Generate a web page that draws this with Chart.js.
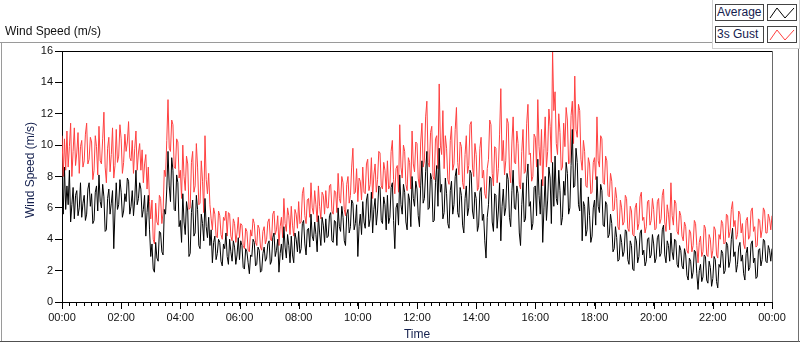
<!DOCTYPE html>
<html>
<head>
<meta charset="utf-8">
<script src="https://cdn.jsdelivr.net/npm/chart.js@4.4.1/dist/chart.umd.min.js"></script>
<style>
    html, body { margin: 0; padding: 0; background: #fff; }
    #wrap { position: relative; width: 800px; height: 342px; overflow: hidden; font-family: "Liberation Sans", Arial, sans-serif; }
    #chart { position: absolute; left: 0; top: 0; }
    .title { position: absolute; left: 5px; top: 24px; font-size: 12px; color: #111; }
    .line { position: absolute; background: #9a9a9a; }
    .legendPanel { position: absolute; left: 712px; top: -1px; width: 86px; height: 49px; border: 1px solid #d0d0d0; border-top: none; }
    .lbox { position: absolute; left: 715px; width: 46px; height: 15px; border: 1px solid #444; background: #fff; font-size: 12px; line-height: 15px; padding-left: 1px; color: #14204e; }
    .ibox { position: absolute; left: 767px; width: 28px; height: 15px; border: 1px solid #444; background: #fff; }
</style>
</head>
<body>
<div id="wrap">
    <canvas id="chart" width="800" height="342"></canvas>
    <div class="title">Wind Speed (m/s)</div>
    <div class="line" style="left:0;top:42px;width:712px;height:1px;"></div>
    <div class="line" style="left:1px;top:42px;width:1px;height:300px;"></div>
    <div class="line" style="left:0;top:341px;width:800px;height:1px;background:#505050;"></div>
    <div class="line" style="left:798px;top:48px;width:1px;height:294px;background:#707070;"></div>
    <div class="legendPanel"></div>
    <div class="lbox" style="top:4px;">Average</div>
    <div class="ibox" style="top:4px;"><svg width="28" height="15"><polyline id="icon0" points="2,13 9,3 17,13 26,3" fill="none" stroke-width="1"/></svg></div>
    <div class="lbox" style="top:26px;">3s Gust</div>
    <div class="ibox" style="top:26px;"><svg width="28" height="15"><polyline id="icon1" points="2,13 9,3 17,13 26,3" fill="none" stroke-width="1"/></svg></div>
</div>
<script>
// samples spread evenly over 00:00 .. 24:00 (one row = one hour)
const dayMinutes = 1440;

const average = [
    7.8, 5.6, 8.6, 5.9, 7.4, 6.2, 8.4, 5.1, 6.2, 7.3, 5.3, 6.8, 7.1, 5.5, 6.0, 7.6, 5.4, 6.3, 6.8, 5.2, 5.6, 7.2, 7.6, 6.1,
    6.9, 5.0, 5.2, 7.0, 7.4, 5.8, 8.1, 6.4, 6.0, 7.5, 6.7, 4.5, 4.6, 6.6, 7.2, 5.6, 6.3, 7.1, 3.4, 5.8, 7.6, 5.9, 6.2, 7.8,
    7.0, 5.4, 5.8, 6.9, 6.4, 7.9, 7.7, 5.6, 6.1, 7.1, 5.5, 6.5, 8.4, 6.2, 6.6, 7.6, 7.2, 5.4, 5.9, 6.8, 4.2, 5.7, 6.8, 4.6,
    2.9, 3.7, 2.1, 1.9, 3.8, 2.8, 2.6, 4.5, 4.4, 3.2, 3.0, 5.9, 5.6, 7.2, 9.6, 7.4, 6.4, 9.2, 8.4, 5.9, 5.8, 8.1, 7.6, 4.8,
    5.2, 3.8, 6.9, 5.1, 4.3, 6.4, 5.8, 2.9, 3.1, 5.7, 6.5, 4.2, 4.4, 6.8, 5.9, 3.6, 3.4, 5.6, 5.0, 3.9, 6.6, 4.8, 4.1, 5.4,
    3.6, 4.6, 2.5, 3.8, 4.2, 2.7, 3.1, 4.0, 3.8, 2.6, 2.3, 3.7, 3.4, 4.4, 2.9, 2.4, 4.0, 3.2, 2.6, 3.9, 3.5, 2.4, 3.0, 4.1,
    2.7, 3.9, 3.6, 2.2, 2.1, 3.4, 3.2, 2.5, 1.8, 3.0, 2.9, 4.0, 3.8, 2.3, 2.4, 3.5, 3.3, 1.9, 2.0, 3.1, 3.5, 2.6, 2.8, 3.7,
    3.9, 2.4, 2.6, 4.1, 4.4, 2.9, 3.3, 4.0, 1.9, 3.1, 3.7, 2.7, 4.8, 3.5, 2.8, 4.3, 3.6, 2.5, 4.2, 3.0, 2.5, 4.4, 4.0, 3.2,
    4.5, 3.1, 3.4, 5.0, 5.2, 3.7, 3.0, 4.6, 4.7, 3.5, 5.6, 4.2, 3.9, 5.1, 4.3, 3.2, 5.5, 4.4, 3.6, 5.4, 4.9, 3.8, 5.3, 4.1,
    4.2, 5.5, 5.7, 3.9, 3.8, 5.2, 5.1, 3.6, 6.0, 4.8, 4.5, 6.1, 5.4, 3.9, 3.6, 5.6, 5.9, 4.4, 4.8, 6.5, 6.3, 4.6, 5.0, 6.2,
    2.9, 4.8, 5.6, 4.3, 6.4, 5.1, 4.7, 6.5, 6.9, 4.8, 5.3, 7.0, 4.4, 5.9, 6.6, 4.9, 5.8, 7.4, 7.3, 5.2, 5.0, 6.7, 6.2, 4.6,
    6.8, 5.0, 5.4, 7.3, 7.6, 5.2, 3.4, 6.0, 6.3, 4.9, 8.1, 6.2, 5.6, 7.5, 7.0, 5.1, 4.6, 6.9, 6.5, 4.8, 8.0, 6.6, 6.1, 7.7,
    7.2, 5.5, 4.8, 7.4, 9.0, 6.3, 6.6, 8.3, 9.6, 5.9, 6.0, 8.2, 7.8, 5.1, 5.2, 7.6, 8.7, 6.1, 9.8, 7.0, 7.5, 5.3, 5.7, 7.9,
    6.9, 5.0, 4.7, 7.1, 7.7, 5.6, 6.2, 8.0, 8.5, 5.7, 5.4, 7.3, 6.8, 4.9, 4.4, 6.6, 7.4, 5.5, 6.0, 8.4, 8.2, 5.8, 5.3, 7.0,
    6.6, 4.5, 4.9, 7.0, 7.3, 5.2, 5.6, 3.9, 2.8, 5.4, 6.2, 8.0, 7.9, 5.1, 4.5, 6.9, 6.8, 4.7, 5.8, 7.6, 3.9, 6.1, 7.2, 5.5,
    6.0, 8.2, 7.8, 5.4, 4.8, 7.1, 8.4, 6.0, 5.9, 7.4, 6.9, 4.4, 3.6, 6.2, 7.6, 5.1, 5.3, 7.9, 8.8, 6.1, 6.4, 4.6, 5.0, 7.3,
    7.4, 5.5, 9.1, 6.8, 5.6, 7.8, 3.8, 6.0, 8.0, 5.2, 6.5, 8.6, 7.9, 5.0, 8.9, 6.1, 9.3, 6.6, 6.2, 8.4, 7.1, 4.9, 5.4, 7.7,
    6.8, 8.9, 8.2, 5.6, 6.0, 8.7, 11.0, 7.3, 7.4, 9.8, 8.9, 6.2, 5.8, 7.9, 3.9, 6.4, 6.1, 4.2, 4.6, 6.7, 5.5, 3.8, 4.2, 6.0,
    6.5, 4.9, 8.0, 6.1, 5.7, 7.5, 7.1, 4.9, 4.8, 6.4, 6.2, 4.1, 4.3, 5.6, 5.0, 3.2, 3.4, 4.8, 4.1, 2.6, 2.7, 4.3, 3.8, 2.9,
    3.2, 4.6, 4.5, 2.7, 2.4, 3.9, 3.6, 2.1, 2.0, 4.2, 3.9, 2.5, 2.9, 4.4, 4.6, 3.0, 3.3, 2.3, 2.6, 4.0, 4.1, 2.8, 3.0, 4.3,
    3.7, 2.5, 2.8, 4.1, 4.3, 2.9, 3.1, 4.6, 4.9, 3.0, 2.5, 3.9, 3.6, 2.6, 4.4, 3.2, 2.7, 4.0, 3.9, 2.4, 2.2, 3.6, 3.3, 2.3,
    2.1, 3.4, 3.0, 1.7, 1.4, 2.8, 2.6, 1.5, 1.9, 3.3, 3.2, 1.8, 0.8, 2.0, 2.4, 1.3, 1.6, 3.0, 2.9, 1.4, 1.2, 2.6, 2.2, 1.0,
    1.5, 2.9, 2.7, 1.3, 0.9, 2.4, 2.2, 3.3, 3.1, 1.8, 2.0, 3.8, 3.6, 2.2, 2.6, 4.0, 4.7, 2.9, 3.2, 1.9, 2.4, 3.5, 3.8, 2.6,
    3.0, 1.8, 1.4, 3.1, 3.5, 2.0, 2.2, 3.7, 3.9, 2.5, 2.8, 1.5, 1.6, 3.3, 3.4, 2.3, 2.7, 4.0, 3.9, 2.6, 2.5, 3.6, 3.3, 2.6,
    3.4
];

const gust = [
    10.6, 8.0, 10.4, 8.4, 10.9, 8.6, 9.9, 11.4, 8.0, 9.6, 11.1, 8.7, 9.5, 10.8, 8.2, 9.9, 10.3, 8.6, 9.0, 10.7, 11.4, 8.8, 9.1, 10.5,
    10.2, 7.8, 8.4, 10.6, 9.9, 8.1, 11.2, 9.0, 8.8, 10.4, 12.1, 8.6, 7.6, 9.8, 10.5, 8.3, 9.4, 11.1, 7.9, 8.7, 11.0, 8.9, 9.3, 11.3,
    10.4, 8.2, 8.9, 10.7, 9.6, 10.2, 11.5, 9.2, 9.0, 10.3, 8.2, 9.8, 10.9, 8.4, 9.5, 10.1, 8.4, 9.7, 7.6, 8.8, 9.4, 7.2, 8.6, 6.4,
    5.3, 6.5, 4.0, 3.7, 6.3, 5.1, 4.9, 6.8, 6.6, 5.0, 5.7, 8.4, 8.0, 10.3, 12.9, 9.8, 9.6, 11.6, 11.3, 8.6, 8.5, 10.4, 10.2, 7.9,
    8.4, 6.6, 10.0, 8.0, 7.1, 9.3, 8.8, 5.9, 6.0, 8.9, 9.6, 7.0, 7.4, 10.1, 8.6, 6.2, 6.3, 9.0, 7.7, 5.7, 10.6, 7.8, 6.9, 8.2,
    6.2, 5.3, 4.6, 6.0, 5.6, 4.2, 4.1, 5.8, 5.5, 4.3, 4.0, 5.4, 5.2, 5.8, 4.2, 5.7, 5.6, 4.2, 3.9, 5.3, 5.0, 3.8, 4.4, 5.4,
    4.1, 5.0, 4.9, 3.6, 3.4, 4.7, 4.5, 3.3, 3.2, 4.6, 4.2, 5.3, 5.0, 3.8, 3.6, 4.9, 4.7, 3.5, 3.3, 4.5, 4.8, 3.7, 4.0, 5.1,
    5.3, 4.0, 3.9, 5.6, 5.8, 4.3, 4.6, 5.5, 3.6, 4.8, 5.4, 4.1, 6.6, 5.0, 4.5, 6.0, 5.5, 4.3, 6.1, 4.9, 4.2, 5.9, 5.6, 4.7,
    6.4, 5.0, 5.1, 6.9, 7.3, 5.5, 5.0, 6.5, 6.6, 5.4, 7.6, 6.0, 5.6, 7.1, 6.2, 5.1, 7.4, 6.1, 5.3, 7.0, 6.8, 5.6, 7.1, 6.0,
    6.0, 7.4, 7.5, 5.8, 5.6, 7.1, 7.0, 5.7, 8.2, 6.6, 6.3, 8.0, 7.6, 5.9, 5.5, 7.5, 8.0, 6.3, 6.8, 8.6, 9.8, 6.9, 7.0, 8.5,
    6.4, 7.9, 7.7, 6.5, 8.6, 7.0, 6.9, 8.8, 9.1, 7.1, 7.5, 9.2, 6.6, 8.1, 8.8, 7.0, 7.8, 9.6, 9.5, 7.4, 7.2, 8.9, 8.4, 7.0,
    9.0, 7.2, 7.4, 9.6, 10.3, 7.8, 6.9, 8.5, 8.7, 7.0, 11.3, 8.6, 7.9, 10.0, 9.6, 7.5, 7.1, 9.2, 8.9, 7.2, 10.9, 8.8, 8.3, 10.2,
    10.1, 7.9, 7.3, 10.2, 11.4, 8.6, 9.0, 11.8, 12.8, 8.9, 8.6, 10.8, 11.2, 8.0, 7.8, 10.4, 10.6, 8.5, 13.9, 10.0, 9.4, 12.2, 8.5, 10.6,
    9.8, 7.8, 7.5, 10.3, 11.2, 8.4, 8.8, 11.0, 12.4, 8.9, 8.1, 10.2, 9.9, 7.6, 7.2, 9.4, 10.6, 8.2, 8.7, 11.3, 11.5, 8.6, 8.0, 10.1,
    9.4, 7.1, 7.3, 9.8, 10.5, 7.9, 8.4, 6.9, 6.6, 8.5, 9.1, 11.6, 11.3, 8.2, 7.4, 9.9, 9.8, 7.6, 8.5, 10.7, 13.6, 9.0, 10.3, 8.1,
    9.0, 11.7, 11.4, 8.4, 7.6, 10.2, 11.8, 8.9, 8.8, 10.9, 10.1, 7.5, 7.2, 9.6, 11.0, 8.2, 8.3, 11.4, 12.6, 9.4, 9.5, 7.7, 8.0, 10.7,
    10.5, 8.6, 12.9, 9.9, 8.7, 11.0, 7.4, 9.8, 11.8, 8.6, 9.6, 12.3, 11.2, 8.9, 16.0, 12.2, 13.4, 10.1, 9.4, 12.0, 10.8, 8.4, 8.6, 11.4,
    9.9, 12.4, 11.6, 8.8, 8.9, 11.9, 12.8, 10.1, 14.4, 11.0, 10.5, 12.6, 12.2, 9.1, 8.4, 10.3, 9.6, 7.4, 7.3, 9.2, 8.8, 6.9, 7.0, 8.9,
    9.2, 7.8, 11.8, 9.0, 8.6, 10.6, 10.4, 7.6, 7.5, 9.3, 9.0, 6.8, 6.7, 8.2, 7.7, 5.8, 5.9, 7.3, 6.6, 4.8, 4.6, 6.5, 6.0, 4.9,
    5.1, 6.8, 6.6, 4.7, 4.5, 6.1, 5.8, 4.3, 4.2, 6.0, 6.3, 4.6, 5.0, 6.7, 7.0, 5.2, 5.4, 4.4, 4.8, 6.4, 6.5, 4.9, 5.2, 6.6,
    5.9, 4.6, 4.7, 6.4, 6.6, 5.0, 5.3, 6.8, 7.2, 5.1, 4.5, 6.2, 5.6, 4.6, 7.6, 5.5, 4.9, 6.5, 6.3, 4.5, 4.3, 5.8, 5.5, 4.2,
    3.9, 5.1, 4.8, 3.3, 3.1, 4.6, 4.4, 3.2, 3.6, 5.2, 5.0, 3.6, 2.5, 3.8, 4.2, 2.9, 3.2, 4.9, 4.7, 3.0, 2.9, 4.3, 4.0, 2.8,
    3.3, 4.8, 4.6, 3.0, 2.8, 4.3, 4.0, 5.2, 5.0, 3.7, 3.8, 5.6, 5.5, 4.1, 4.5, 5.9, 6.4, 4.8, 5.2, 4.0, 4.3, 5.8, 5.6, 4.4,
    5.0, 3.7, 3.4, 5.2, 5.4, 4.0, 4.2, 5.8, 6.0, 4.5, 4.8, 3.5, 3.6, 5.3, 5.2, 4.1, 4.6, 6.0, 5.8, 4.4, 4.4, 5.6, 5.3, 4.6,
    5.5
];

// minutes of the labelled ticks (every 2 h) and y tick labels
const timeTicks = [0, 120, 240, 360, 480, 600, 720, 840, 960, 1080, 1200, 1320, 1440];
const speedTicks = [0, 2, 4, 6, 8, 10, 12, 14, 16];

const seriesColors = { average: '#000000', gust: '#ff4040' };

document.getElementById('icon0').setAttribute('stroke', seriesColors.average);
document.getElementById('icon1').setAttribute('stroke', seriesColors.gust);

function toPoints(values) {
    const step = dayMinutes / (values.length - 1);
    return values.map((v, i) => ({ x: i * step, y: v }));
}

function formatTime(mins) {
    const h = Math.floor(mins / 60) % 24;
    const m = mins % 60;
    return String(h).padStart(2, '0') + ':' + String(m).padStart(2, '0');
}

// top/right frame, long ticks every 2 h, axis names
const framePlugin = {
    id: 'frame',
    afterDraw(chart) {
        const { ctx, chartArea: a } = chart;
        const xs = chart.scales.x;
        ctx.save();
        ctx.lineWidth = 1;
        ctx.strokeStyle = '#000';
        ctx.beginPath();
        ctx.moveTo(a.left, a.top + 0.5);
        ctx.lineTo(a.right, a.top + 0.5);
        timeTicks.forEach(t => {
            const px = Math.round(xs.getPixelForValue(t)) + 0.5;
            ctx.moveTo(px, a.bottom);
            ctx.lineTo(px, a.bottom + 7);
        });
        ctx.stroke();
        ctx.strokeStyle = '#6a6a6a';
        ctx.beginPath();
        ctx.moveTo(a.right + 0.5, a.top);
        ctx.lineTo(a.right + 0.5, a.bottom);
        ctx.stroke();

        ctx.fillStyle = '#14204e';
        ctx.font = '12px "Liberation Sans", Arial, sans-serif';
        ctx.textAlign = 'center';
        ctx.textBaseline = 'middle';
        ctx.fillText('Time', (a.left + a.right) / 2, 335);
        ctx.translate(31, 170);
        ctx.rotate(-Math.PI / 2);
        ctx.fillText('Wind Speed (m/s)', 0, 0);
        ctx.restore();
    }
};

function createChart() {
    const ctx = document.getElementById('chart').getContext('2d');
    new Chart(ctx, {
        type: 'line',
        data: {
            datasets: [{
                label: 'Average',
                data: toPoints(average),
                borderColor: seriesColors.average,
                borderWidth: 1,
                pointRadius: 0,
                tension: 0
            }, {
                label: '3s Gust',
                data: toPoints(gust),
                borderColor: seriesColors.gust,
                borderWidth: 1,
                pointRadius: 0,
                tension: 0
            }]
        },
        options: {
            responsive: false,
            animation: false,
            devicePixelRatio: 1,
            layout: { padding: { top: 51, right: 28, left: 0, bottom: 0 } },
            plugins: {
                legend: { display: false },
                tooltip: { enabled: false }
            },
            scales: {
                x: {
                    type: 'linear',
                    min: 0,
                    max: dayMinutes,
                    afterFit: s => { s.height = 40; },
                    border: { color: '#000', width: 1 },
                    grid: { drawOnChartArea: false, tickLength: 4, color: '#000' },
                    ticks: {
                        stepSize: 15,
                        autoSkip: false,
                        maxRotation: 0,
                        padding: 5,
                        color: '#111',
                        font: { family: '"Liberation Sans", Arial, sans-serif', size: 11 },
                        callback: v => timeTicks.includes(v) ? formatTime(v) : ''
                    }
                },
                y: {
                    min: 0,
                    max: 16,
                    afterFit: s => { s.width = 62; },
                    border: { color: '#000', width: 1 },
                    grid: { drawOnChartArea: false, tickLength: 7, color: '#000' },
                    afterBuildTicks: s => { s.ticks = speedTicks.map(v => ({ value: v })); },
                    ticks: {
                        padding: 2,
                        color: '#111',
                        font: { family: '"Liberation Sans", Arial, sans-serif', size: 11 }
                    }
                }
            }
        },
        plugins: [framePlugin]
    });
}

createChart();
</script>
</body>
</html>
